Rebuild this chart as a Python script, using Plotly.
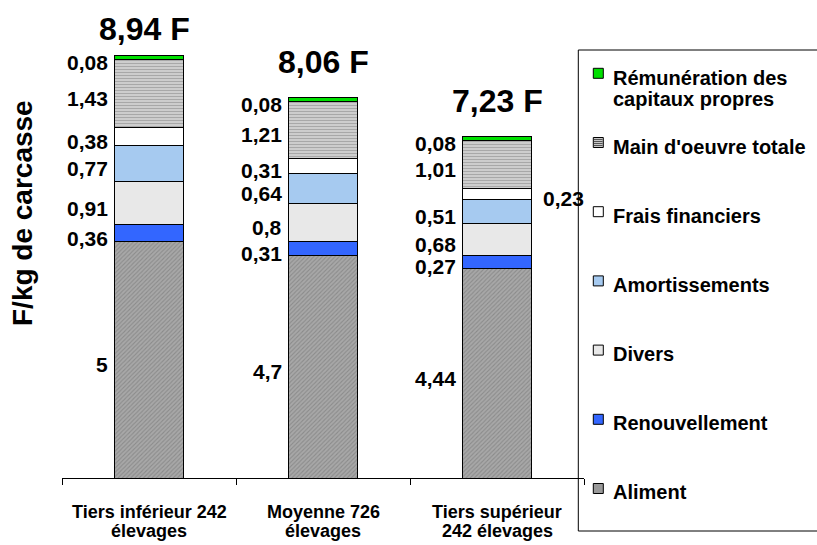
import plotly.graph_objects as go

# coûts de production (F/kg de carcasse)
categories = ["Tiers inférieur 242<br>élevages", "Moyenne 726<br>élevages", "Tiers supérieur<br>242 élevages"]
aliment = [5, 4.7, 4.44]
renouvellement = [0.36, 0.31, 0.27]
divers = [0.91, 0.8, 0.68]
amortissements = [0.77, 0.64, 0.51]
frais_financiers = [0.38, 0.31, 0.23]
main_oeuvre = [1.43, 1.21, 1.01]
remuneration = [0.08, 0.08, 0.08]
totals = [8.94, 8.06, 7.23]

series_names = ["Aliment", "Renouvellement", "Divers", "Amortissements",
                "Frais financiers", "Main d'oeuvre totale",
                "Rémunération des<br>capitaux propres"]
series_values = [aliment, renouvellement, divers, amortissements,
                 frais_financiers, main_oeuvre, remuneration]

styles = {
    "Aliment": dict(color="#9a9a9a", pattern=dict(shape="/", fgcolor="#6e6e6e", bgcolor="#a8a8a8", size=3, solidity=0.35), swatch="#999999"),
    "Renouvellement": dict(color="#3366ff", swatch="#3366ff"),
    "Divers": dict(color="#e8e8e8", swatch="#e8e8e8"),
    "Amortissements": dict(color="#a6caf0", swatch="#a6caf0"),
    "Frais financiers": dict(color="#ffffff", swatch="#ffffff"),
    "Main d'oeuvre totale": dict(color="#d0d0d0", pattern=dict(shape="-", fgcolor="#7c7c7c", bgcolor="#d4d4d4", size=3, solidity=0.45), swatch="#c8c8c8"),
    "Rémunération des<br>capitaux propres": dict(color="#00e000", swatch="#00e000"),
}

# label placed on the right of the bar instead of the left
right_labels = {("Frais financiers", 2)}

FONT = "Liberation Sans, Arial, sans-serif"
W, H = 817, 545
L, R, T, B = 62, 233, 29, 67
YMAX = 9.5


def px_x(x):
    return (x - L) / (W - L - R)


def px_y(y):
    return (H - B - y) / (H - T - B)


fig = go.Figure()
for name, vals in zip(series_names, series_values):
    st = styles[name]
    marker = dict(color=st["color"], line=dict(color="black", width=1))
    if "pattern" in st:
        marker["pattern"] = st["pattern"]
    fig.add_trace(go.Bar(x=categories, y=vals, name=name, marker=marker,
                         showlegend=False, hoverinfo="skip"))

annotations = []
# value labels
for i, cat in enumerate(categories):
    base = 0
    for name, vals in zip(series_names, series_values):
        v = vals[i]
        mid = base + v / 2
        base += v
        right = (name, i) in right_labels
        annotations.append(dict(
            x=cat, y=mid, xref="x", yref="y", showarrow=False,
            text=f"{v:g}".replace(".", ","),
            xanchor="left" if right else "right", yanchor="middle",
            xshift=44 if right else -39, yshift=-5,
            font=dict(family=FONT, size=21, color="black", weight="bold")))
    annotations.append(dict(
        x=cat, y=min(totals[i] + 0.74, YMAX), xref="x", yref="y", showarrow=False,
        text=f"{totals[i]:.2f} F".replace(".", ","), xanchor="center", yanchor="middle",
        xshift=-5 if i == 0 else 0,
        font=dict(family=FONT, size=32, color="black", weight="bold")))
    # category label, one annotation per line for tighter line spacing
    for j, line in enumerate(cat.split("<br>")):
        annotations.append(dict(
            x=cat, y=px_y(512 + j * 18.7), xref="x", yref="paper", showarrow=False,
            text=line, xanchor="center", yanchor="middle",
            font=dict(family=FONT, size=18, color="black", weight="bold")))

# y title
annotations.append(dict(
    x=px_x(22), y=px_y(213), xref="paper", yref="paper", showarrow=False,
    text="F/kg de carcasse", textangle=-90, xanchor="center", yanchor="middle",
    font=dict(family=FONT, size=28, color="black", weight="bold")))

# legend drawn by hand, top to bottom (box open on the right)
box_l, box_t, box_b, box_r = px_x(578.3), px_y(50), px_y(531), px_x(817)
shapes = [
    dict(type="line", xref="paper", yref="paper", x0=box_l, x1=box_r, y0=box_t, y1=box_t,
         line=dict(color="black", width=1)),
    dict(type="line", xref="paper", yref="paper", x0=box_l, x1=box_l, y0=box_t, y1=box_b,
         line=dict(color="black", width=1)),
    dict(type="line", xref="paper", yref="paper", x0=box_l, x1=box_r, y0=box_b, y1=box_b,
         line=dict(color="black", width=1)),
]
for k, name in enumerate(reversed(series_names)):
    top = 68.3 + k * 69.2
    shapes.append(dict(type="rect", xref="paper", yref="paper",
                       x0=px_x(593.3), x1=px_x(603.3), y0=px_y(top), y1=px_y(top + 10),
                       line=dict(color="black", width=1), fillcolor=styles[name]["swatch"]))
    if name == "Main d'oeuvre totale":
        for j in range(4):
            yy = top + 2 + j * 2
            shapes.append(dict(type="line", xref="paper", yref="paper",
                               x0=px_x(594), x1=px_x(602.6), y0=px_y(yy), y1=px_y(yy),
                               line=dict(color="#555555", width=1)))
    baseline = 85 + k * 69.05
    for j, line in enumerate(name.split("<br>")):
        annotations.append(dict(
            x=px_x(611), y=px_y(baseline + j * 20.7 - 7), xref="paper", yref="paper",
            showarrow=False, text=line, xanchor="left", yanchor="middle",
            font=dict(family=FONT, size=20, color="black", weight="bold")))

fig.update_layout(
    width=W, height=H,
    margin=dict(l=L, r=R, t=T, b=B),
    barmode="stack", bargap=0.6,
    paper_bgcolor="white", plot_bgcolor="white",
    annotations=annotations, shapes=shapes,
    xaxis=dict(type="category", range=[-0.5, len(categories) - 0.5],
               tickson="boundaries", ticks="outside", ticklen=6, tickcolor="black",
               showticklabels=False, automargin=False,
               showline=True, linecolor="black", linewidth=1, showgrid=False),
    xaxis2=dict(overlaying="x", anchor="y", side="bottom", automargin=False,
                range=[-0.5, len(categories) - 0.5],
                tickvals=[i - 0.5 for i in range(len(categories) + 1)],
                ticks="inside", ticklen=6, tickcolor="black",
                showticklabels=False, showgrid=False, zeroline=False, showline=False),
    yaxis=dict(range=[0, YMAX], showgrid=False, showticklabels=False, automargin=False,
               zeroline=False, showline=False, ticks=""),
)

fig.write_html("out.html", config={"displayModeBar": False},
               post_script="document.body.style.margin='0';")
